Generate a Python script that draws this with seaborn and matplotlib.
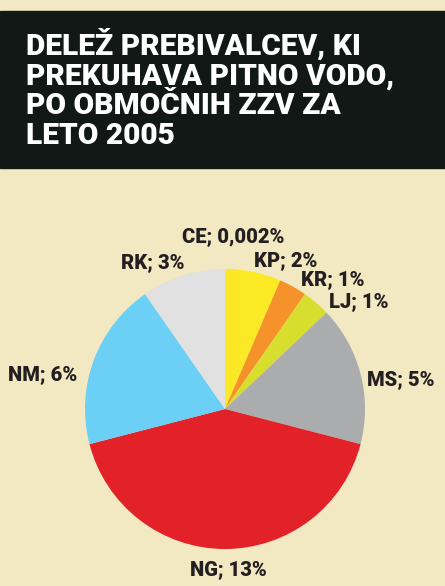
import matplotlib
matplotlib.use("Agg")
import matplotlib.pyplot as plt
import seaborn as sns

# ---- data ----
regions = ["CE", "KP", "KR", "LJ", "MS", "NG", "NM", "RK"]
shares = [0.002, 2, 1, 1, 5, 13, 6, 3]
share_labels = ["0,002%", "2%", "1%", "1%", "5%", "13%", "6%", "3%"]
title_lines = ["DELEŽ PREBIVALCEV, KI", "PREKUHAVA PITNO VODO,",
               "PO OBMOČNIH ZZV ZA", "LETO 2005"]

# ---- style ----
sns.set_style("white")
plt.rcParams['font.family'] = ['Roboto', 'DejaVu Sans']

bg = "#F2E9C2"
band = "#121816"
colors = sns.color_palette(["#FBE925", "#FBE925", "#F5922A", "#D8DE2E",
                            "#AAACAE", "#E32128", "#6CCFF6", "#E1E1E1"])
ink = "#231F20"

W, H = 445, 586
fig = plt.figure(figsize=(W / 100, H / 100), dpi=100, facecolor=bg)
ax = fig.add_axes([0, 0, 1, 1])
ax.set_facecolor(bg)

# title band
ax.axhspan(H - 168, H - 11, color=band, zorder=0)
ax.text(26, H - 28, "\n".join(title_lines), color="white", fontsize=21.5,
        fontweight="black", ha="left", va="top", linespacing=1.08, zorder=3)

# pie
cx, cy, r = 225, H - 409, 140
ax.pie(shares, colors=colors, startangle=90, counterclock=False,
       center=(cx, cy), radius=r, wedgeprops=dict(linewidth=0))

# label positions (pixel coords of label centres)
label_pos = [(233, 237), (286, 261), (333, 280), (359, 302),
             (401, 380), (228, 570), (43, 375), (153, 263)]
for reg, lab, (px, py) in zip(regions, share_labels, label_pos):
    ax.text(px, H - py, f"{reg}; {lab}", color=ink, fontsize=14.5,
            fontweight="black", ha="center", va="center", zorder=4)

ax.set_xlim(0, W)
ax.set_ylim(0, H)
ax.set_aspect("equal")
ax.axis("off")

fig.savefig("out.png", dpi=100, facecolor=bg)
